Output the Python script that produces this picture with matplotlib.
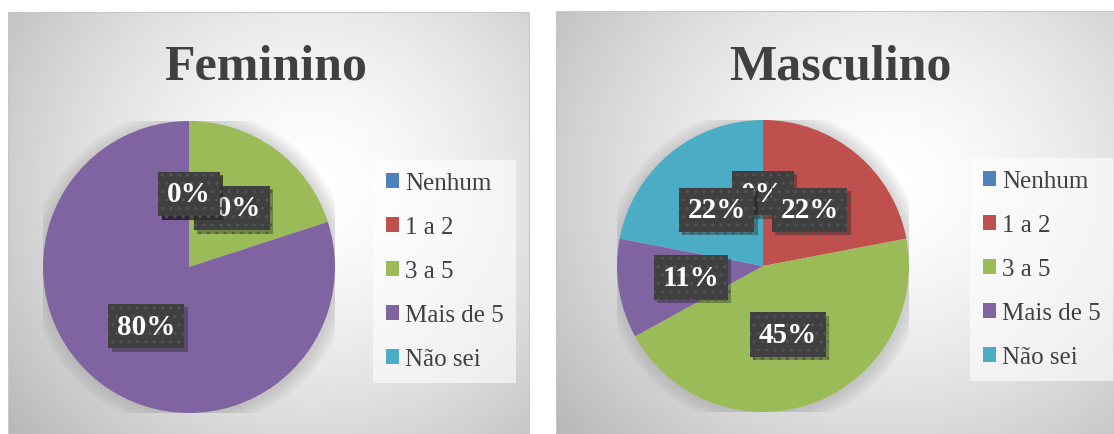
import matplotlib
matplotlib.use("Agg")
import matplotlib.pyplot as plt
import matplotlib.patheffects as pe
from matplotlib.patches import Rectangle, Circle
import numpy as np

plt.rcParams['font.family'] = ['Liberation Serif', 'DejaVu Serif']

categorias = ["Nenhum", "1 a 2", "3 a 5", "Mais de 5", "Não sei"]
feminino = [0, 0, 20, 80, 0]
masculino = [0, 22, 45, 11, 22]
cores = ["#4F81BD", "#C0504D", "#9BBB59", "#8064A2", "#4BACC6"]
titulos = ["Feminino", "Masculino"]

W, H = 1114, 435
fig = plt.figure(figsize=(W / 100, H / 100), dpi=100)
fig.patch.set_facecolor("white")


def px_axes(x0, y0, x1, y1):
    # pixel box (top-left origin) -> figure axes
    return fig.add_axes([x0 / W, 1 - y1 / H, (x1 - x0) / W, (y1 - y0) / H])


def painel(x0, y0, x1, y1):
    ax = px_axes(x0, y0, x1, y1)
    ny, nx = 200, 300
    yy, xx = np.mgrid[0:1:ny * 1j, 0:1:nx * 1j]
    d = np.sqrt(((xx - 0.58) * 1.0) ** 2 + ((yy - 0.40) * 0.85) ** 2) / 0.62
    v = 1.0 - 0.21 * np.clip(d, 0, 1.2) ** 1.5
    ax.imshow(v, cmap="gray", vmin=0, vmax=1, extent=[0, 1, 0, 1],
              aspect="auto", origin="upper", interpolation="bilinear")
    ax.add_patch(Rectangle((0, 0), 1, 1, transform=ax.transAxes, fill=False,
                           ec="#c8c8c8", lw=1.5))
    ax.set_xlim(0, 1)
    ax.set_ylim(0, 1)
    ax.axis("off")
    return ax


def grafico(valores, titulo, cx, cy, r, tx, leg_x, leg_y):
    ax = px_axes(cx - r, cy - r, cx + r, cy + r)
    for k in range(10):
        ax.add_patch(Circle((0.01, -0.01), 1.0 + 0.01 * (k + 1), color="#8a8a8a",
                            alpha=0.035, lw=0, zorder=0))
    wedges, textos, autotextos = ax.pie(
        valores, colors=cores, startangle=90, counterclock=False, radius=1,
        autopct=lambda p: f"{p:.0f}%", pctdistance=0.5,
        wedgeprops=dict(lw=0),
        textprops=dict(color="white", fontsize=21, fontweight="bold"))
    for t in autotextos:
        t.set_bbox(dict(boxstyle="square,pad=0.3", fc="#404040", ec="#545454",
                        lw=0, hatch=".."))
        t.get_bbox_patch().set_path_effects([
            pe.SimplePatchShadow(offset=(2.5, -2.5), shadow_rgbFace="black", alpha=0.28),
            pe.Normal()])
    ax.set_xlim(-1, 1)
    ax.set_ylim(-1, 1)
    ax.set_aspect("equal")
    fig.text(tx / W, 1 - 79 / H, titulo, ha="center", va="baseline",
             fontsize=36, fontweight="bold", color="#404040")
    leg = fig.legend(wedges, categorias, loc="upper left",
                     bbox_to_anchor=(leg_x / W, 1 - leg_y / H),
                     fontsize=18, frameon=True, fancybox=False,
                     handlelength=0.55, handleheight=0.55, handletextpad=0.22,
                     labelspacing=0.88, borderpad=0.5, borderaxespad=0)
    leg.get_frame().set_facecolor("white")
    leg.get_frame().set_alpha(0.6)
    leg.get_frame().set_linewidth(0)
    for t in leg.get_texts():
        t.set_color("#404040")


painel(8, 13, 530, 445)
painel(556, 12, 1124, 445)

grafico(feminino, titulos[0], 189, 268, 146, 266, 373, 161)
grafico(masculino, titulos[1], 763, 267, 146, 840, 970, 159)

fig.savefig("out.png", dpi=100)
